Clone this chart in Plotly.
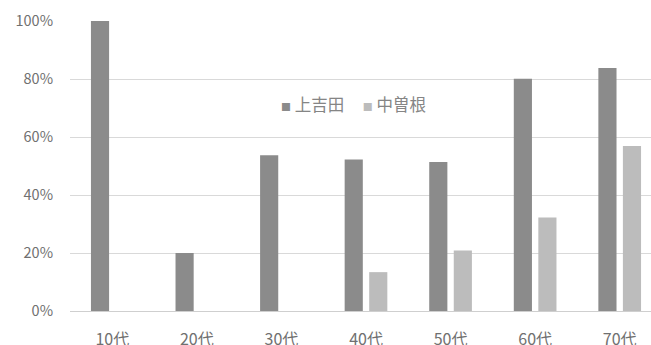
import plotly.graph_objects as go

# Age groups and share of respondents per district
age_groups = ["10代", "20代", "30代", "40代", "50代", "60代", "70代"]
kamiyoshida = [1.00, 0.20, 0.537, 0.522, 0.514, 0.801, 0.838]
nakasone = [None, None, None, 0.134, 0.209, 0.322, 0.569]

series_names = ["上吉田", "中曽根"]
colors = ["#8b8b8b", "#bcbcbc"]

font_family = "Noto Sans CJK JP, Noto Sans, sans-serif"

fig = go.Figure()
for name, vals, col in zip(series_names, [kamiyoshida, nakasone], colors):
    fig.add_trace(go.Bar(
        x=age_groups, y=vals, name=name,
        marker=dict(color=col, line=dict(width=0)),
        showlegend=False,
    ))

fig.update_layout(
    width=651, height=345,
    margin=dict(l=70, r=0, t=21, b=34, pad=0),
    paper_bgcolor="white", plot_bgcolor="white",
    barmode="group", bargap=0.42, bargroupgap=0.26,
    font=dict(family=font_family, color="#707070", size=13),
    xaxis=dict(
        range=[-0.5, 6.37], automargin=False,
        showgrid=False, zeroline=False, showline=False,
        ticks="", ticklabelstandoff=17,
        tickfont=dict(size=16, color="#707070"),
    ),
    yaxis=dict(
        range=[0, 1.0], automargin=False,
        tickvals=[0, 0.2, 0.4, 0.6, 0.8, 1.0],
        tickformat=".0%",
        showgrid=True, gridcolor="#d9d9d9", gridwidth=1,
        zeroline=True, zerolinecolor="#cfcfcf", zerolinewidth=1,
        showline=False, ticks="", ticklabelstandoff=16,
        tickfont=dict(size=14.5, color="#707070"),
    ),
)

# Legend drawn as a single text line inside the plot area
legend_text = (
    f'<span style="color:{colors[0]};font-size:10px">■</span> {series_names[0]}'
    f'&nbsp;&nbsp;&nbsp;&nbsp;&nbsp;<span style="color:{colors[1]};font-size:10px">■</span> {series_names[1]}'
)
fig.add_annotation(
    text=legend_text, xref="paper", yref="paper",
    x=(279 - 70) / 581, y=(310.7 - 104) / 290,
    xanchor="left", yanchor="middle", showarrow=False,
    font=dict(size=16.5, color="#858585", family=font_family),
)

fig.write_html("out.html")
